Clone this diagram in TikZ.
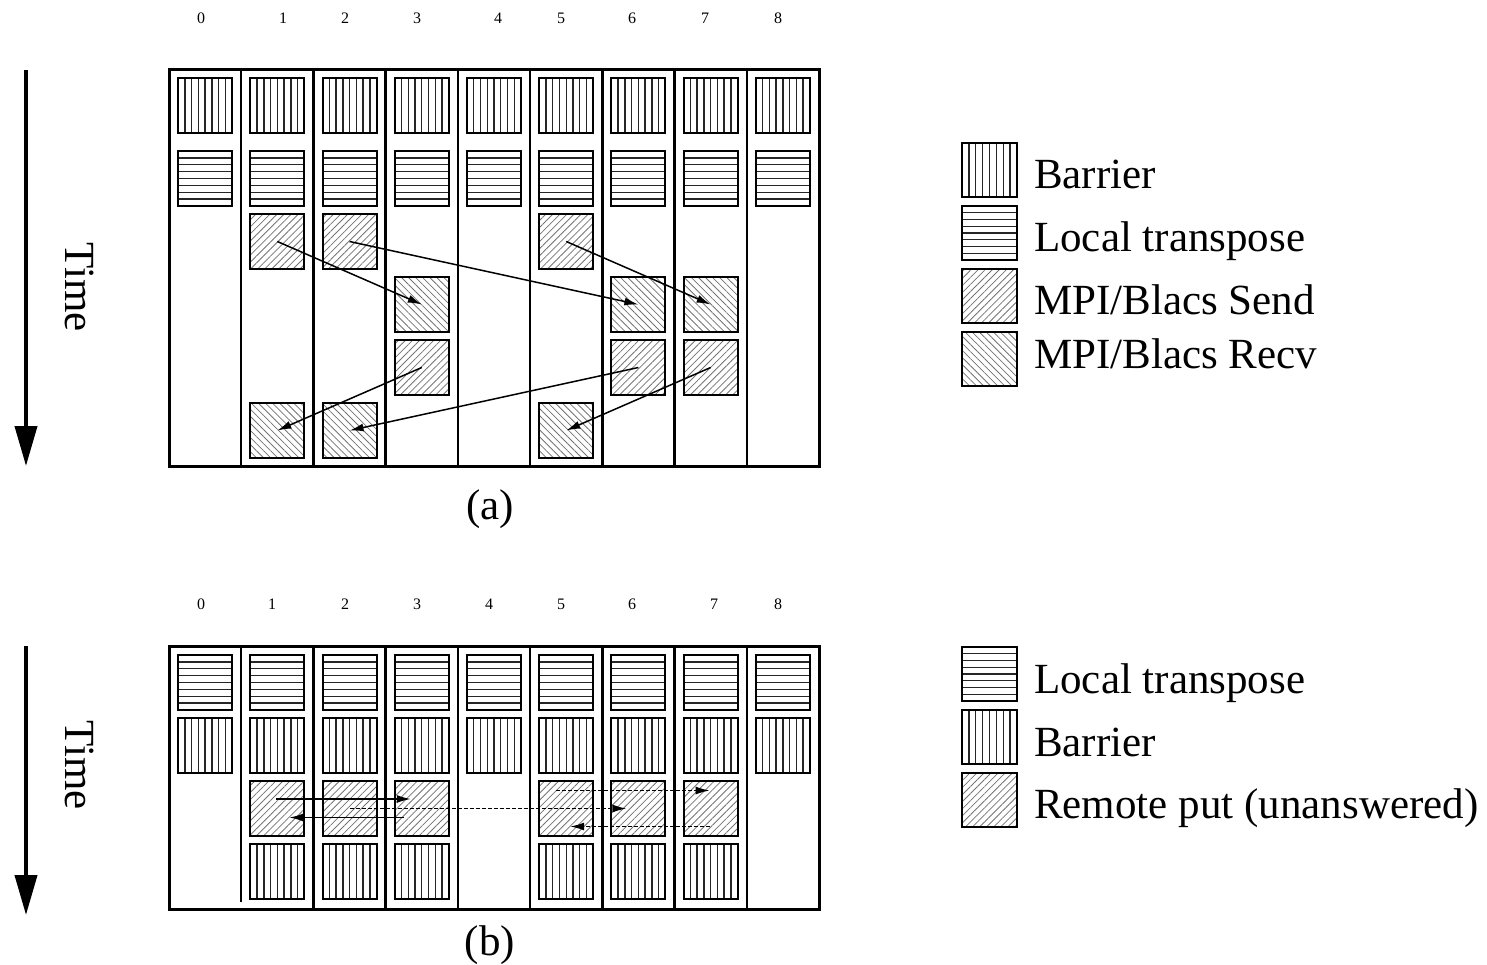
\documentclass[tikz,border=0pt]{standalone}
\usepackage{fontspec}
\setmainfont{Liberation Serif}
\usetikzlibrary{patterns.meta,arrows.meta,calc}
\tikzset{
  blk/.style={draw, line width=2pt, minimum width=54pt, minimum height=55pt, inner sep=0pt},
  barrierbox/.style={blk, path picture={
      \foreach \k in {1,...,7}
        \draw[line width=1.4pt, black!85]
          ($(path picture bounding box.north west)!\k/8!(path picture bounding box.north east)$) --
          ($(path picture bounding box.south west)!\k/8!(path picture bounding box.south east)$);}},
  ltbox/.style={blk, path picture={
      \foreach \k in {1,...,7}
        \draw[line width=1.4pt, black!85]
          ($(path picture bounding box.north west)!\k/8!(path picture bounding box.south west)$) --
          ($(path picture bounding box.north east)!\k/8!(path picture bounding box.south east)$);}},
  sendbox/.style={blk, pattern={Lines[angle=45,distance=5pt,line width=0.8pt]}, pattern color=black!55},
  recvbox/.style={blk, pattern={Lines[angle=-45,distance=5pt,line width=0.8pt]}, pattern color=black!55},
  frame/.style={line width=3pt},
  divider/.style={line width=2.5pt},
  msg/.style={line width=1.5pt, -{Latex[length=14pt,width=8pt]}},
  msgdash/.style={msg, dash pattern=on 4pt off 2pt},
  timearrow/.style={line width=4pt, -{Triangle[length=40pt,width=22pt]}},
  colnum/.style={font=\fontsize{16}{18}\selectfont, inner sep=0pt},
  bigtext/.style={font=\fontsize{43}{48}\selectfont, inner sep=0pt},
}
\begin{document}
\begin{tikzpicture}[x=1pt,y=-1pt]
\useasboundingbox (0,0) rectangle (1487,965);
% ---------------- (a) ----------------
\foreach \i/\x in {0/201,1/283,2/345,3/417,4/498,5/561,6/632,7/705,8/778}
  \node[colnum] (na\i) at (\x,18) {\i};
\node[draw, frame, minimum width=650pt, minimum height=396pt, inner sep=0pt] (fa) at (494,268) {};
\foreach \k in {1,...,8}
  \draw[divider] ({169+72.22*\k},70) coordinate (da\k) -- ({169+72.22*\k},466);
\foreach \i in {0,...,8} {
  \node[barrierbox] (ab\i) at ({169+72.22*(\i+0.5)},105.5) {};
  \node[ltbox] (al\i) at ({169+72.22*(\i+0.5)},178.5) {};
}
\foreach \i in {1,2,5}
  \node[sendbox] (as\i) at ({169+72.22*(\i+0.5)},241.5) {};
\foreach \i in {3,6,7} {
  \node[recvbox] (ar\i) at ({169+72.22*(\i+0.5)},304.5) {};
  \node[sendbox] (at\i) at ({169+72.22*(\i+0.5)},367.5) {};
}
\foreach \i in {1,2,5}
  \node[recvbox] (au\i) at ({169+72.22*(\i+0.5)},430.5) {};
\draw[msg] (as1.center) -- (ar3.center);
\draw[msg] (as2.center) -- (ar6.center);
\draw[msg] (as5.center) -- (ar7.center);
\draw[msg] (at3.center) -- (au1.center);
\draw[msg] (at6.center) -- (au2.center);
\draw[msg] (at7.center) -- (au5.center);
% time arrow (a)
\coordinate (ta1) at (26,70);
\coordinate (ta2) at (26,466);
\draw[timearrow] (ta1) -- (ta2);
\node[bigtext, rotate=-90] (timea) at (80,287) {Time};
\node[bigtext] (capa) at (490,509) {(a)};
% legend (a)
\node[barrierbox, minimum width=55pt, minimum height=54pt] (la1) at (989.5,170) {};
\node[ltbox, minimum width=55pt, minimum height=54pt] (la2) at (989.5,233) {};
\node[sendbox, minimum width=55pt, minimum height=54pt] (la3) at (989.5,296) {};
\node[recvbox, minimum width=55pt, minimum height=54pt] (la4) at (989.5,359) {};
\node[bigtext, anchor=base west] (lta1) at (1034,189) {Barrier};
\node[bigtext, anchor=base west] (lta2) at (1034,252) {Local transpose};
\node[bigtext, anchor=base west] (lta3) at (1034,314) {MPI/Blacs Send};
\node[bigtext, anchor=base west] (lta4) at (1034,368) {MPI/Blacs Recv};
% ---------------- (b) ----------------
\foreach \i/\x in {0/201,1/272,2/345,3/417,4/489,5/561,6/632,7/714,8/778}
  \node[colnum] (nb\i) at (\x,604) {\i};
\node[draw, frame, minimum width=650pt, minimum height=263pt, inner sep=0pt] (fb) at (494,777.5) {};
\draw[divider] (241.2,646) coordinate (db1) -- (241.2,902);
\foreach \k in {2,...,8}
  \draw[divider] ({169+72.22*\k},646) coordinate (db\k) -- ({169+72.22*\k},909);
\foreach \i in {0,...,8} {
  \node[ltbox] (bl\i) at ({169+72.22*(\i+0.5)},682.5) {};
  \node[barrierbox] (bb\i) at ({169+72.22*(\i+0.5)},745.5) {};
}
\foreach \i in {1,2,3,5,6,7} {
  \node[sendbox] (bp\i) at ({169+72.22*(\i+0.5)},808.5) {};
  \node[barrierbox] (bc\i) at ({169+72.22*(\i+0.5)},871.5) {};
}
\draw[msg] ([xshift=-1pt,yshift=9.5pt]bp1.center) -- ([xshift=-11pt,yshift=9.5pt]bp3.center);
\draw[msg] ([xshift=-18pt,yshift=-9pt]bp3.center) -- ([xshift=12pt,yshift=-9pt]bp1.center);
\draw[msgdash] (bp2.center) -- ([xshift=-12pt]bp6.center);
\draw[msgdash] ([xshift=-10pt,yshift=18pt]bp5.center) -- ([xshift=-1pt,yshift=18pt]bp7.center);
\draw[msgdash] ([xshift=-1pt,yshift=-18pt]bp7.center) -- ([xshift=4pt,yshift=-18pt]bp5.center);
% time arrow (b)
\coordinate (tb1) at (26,646);
\coordinate (tb2) at (26,915);
\draw[timearrow] (tb1) -- (tb2);
\node[bigtext, rotate=-90] (timeb) at (80,765) {Time};
\node[bigtext] (capb) at (490,945) {(b)};
% legend (b)
\node[ltbox, minimum width=55pt, minimum height=54pt] (lb1) at (989.5,674) {};
\node[barrierbox, minimum width=55pt, minimum height=54pt] (lb2) at (989.5,737) {};
\node[sendbox, minimum width=55pt, minimum height=54pt] (lb3) at (989.5,800) {};
\node[bigtext, anchor=base west] (ltb1) at (1034,693) {Local transpose};
\node[bigtext, anchor=base west] (ltb2) at (1034,756) {Barrier};
\node[bigtext, anchor=base west] (ltb3) at (1034,818) {Remote put (unanswered)};
\end{tikzpicture}
\end{document}
